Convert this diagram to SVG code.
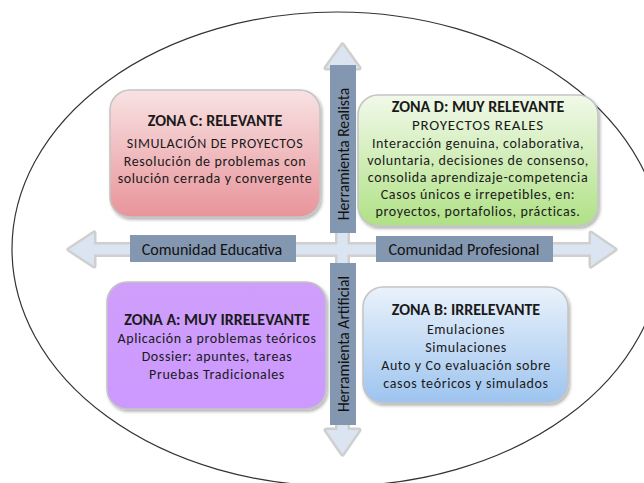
<svg xmlns="http://www.w3.org/2000/svg" width="644" height="483" viewBox="0 0 644 483">
<defs>
<linearGradient id="gC" x1="0" y1="0" x2="0" y2="1"><stop offset="0" stop-color="#f8e2e3"/><stop offset="1" stop-color="#e8949a"/></linearGradient>
<linearGradient id="gD" x1="0" y1="0" x2="0" y2="1"><stop offset="0" stop-color="#f1f9ea"/><stop offset="1" stop-color="#b0e185"/></linearGradient>
<linearGradient id="gA" x1="0" y1="0" x2="0" y2="1"><stop offset="0" stop-color="#cf9ffb"/><stop offset="1" stop-color="#cc99ff"/></linearGradient>
<linearGradient id="gB" x1="0" y1="0" x2="0" y2="1"><stop offset="0" stop-color="#eaf2fb"/><stop offset="1" stop-color="#9dc4ef"/></linearGradient>
<filter id="sh" x="-10%" y="-10%" width="125%" height="130%"><feDropShadow dx="1.5" dy="2" stdDeviation="1.5" flood-color="#000" flood-opacity="0.3"/></filter>
<path id="hArrow" d="M69,249.5 L94,233 L94,244.5 L591,244.5 L591,233 L615,249.5 L591,266 L591,254.5 L94,254.5 L94,266 Z"/>
<path id="vArrow" d="M342.5,45 L359,68 L347.5,68 L347.5,430 L359,430 L342.5,454 L326,430 L337.5,430 L337.5,68 L326,68 Z"/>
</defs>
<style>
.zone{stroke:#c4c4c4;stroke-width:1.5;filter:url(#sh)}
.t{font-family:Carlito,Lato,"Liberation Sans",sans-serif;fill:#1a1a1a;text-anchor:middle}
.h{font-weight:bold;font-size:16px}
.b{font-size:14px;letter-spacing:0.6px}
.sub{font-size:15px;letter-spacing:0.8px}
.lab{fill:#8497b0}
.lt{font-family:Carlito,Lato,"Liberation Sans",sans-serif;fill:#111;font-size:16px;text-anchor:middle;dominant-baseline:central}
.ltv{font-size:15.6px}
.arrS{fill:none;stroke:#cfcfcf;stroke-width:5;stroke-linejoin:round}
.arrF{fill:#dbe5f2}
</style>
<rect width="644" height="483" fill="#fff"/>
<ellipse cx="337" cy="249" rx="325" ry="237" fill="none" stroke="#333" stroke-width="1.2"/>
<g id="connectors">
<use href="#hArrow" class="arrS"/>
<use href="#vArrow" class="arrS"/>
<use href="#hArrow" class="arrF"/>
<use href="#vArrow" class="arrF"/>
</g>
<g id="zonaC">
<rect class="zone" x="110" y="90" width="210" height="127" rx="20" fill="url(#gC)"/>
<text class="t h" x="215" y="126">ZONA C: RELEVANTE</text>
<text class="t b" x="215" y="148">SIMULACIÓN DE PROYECTOS</text>
<text class="t b" x="215" y="166">Resolución de problemas con</text>
<text class="t b" x="215" y="183">solución cerrada y convergente</text>
</g>
<g id="zonaD">
<rect class="zone" x="358" y="95" width="240" height="131" rx="20" fill="url(#gD)"/>
<text class="t h" x="478" y="112">ZONA D: MUY RELEVANTE</text>
<text class="t sub" x="478" y="130">PROYECTOS REALES</text>
<text class="t b" x="478" y="148">Interacción genuina, colaborativa,</text>
<text class="t b" x="478" y="165">voluntaria, decisiones de consenso,</text>
<text class="t b" x="478" y="182">consolida aprendizaje-competencia</text>
<text class="t b" x="478" y="199">Casos únicos e irrepetibles, en:</text>
<text class="t b" x="478" y="216">proyectos, portafolios, prácticas.</text>
</g>
<g id="zonaA">
<rect class="zone" x="107" y="282" width="219" height="127" rx="20" fill="url(#gA)"/>
<text class="t h" x="217" y="325">ZONA A: MUY IRRELEVANTE</text>
<text class="t b" x="217" y="343">Aplicación a problemas teóricos</text>
<text class="t b" x="217" y="361">Dossier: apuntes, tareas</text>
<text class="t b" x="217" y="379">Pruebas Tradicionales</text>
</g>
<g id="zonaB">
<rect class="zone" x="363" y="287" width="205" height="116" rx="20" fill="url(#gB)"/>
<text class="t h" x="466" y="315">ZONA B: IRRELEVANTE</text>
<text class="t b" x="466" y="334">Emulaciones</text>
<text class="t b" x="466" y="352">Simulaciones</text>
<text class="t b" x="466" y="370">Auto y Co evaluación sobre</text>
<text class="t b" x="466" y="388">casos teóricos y simulados</text>
</g>
<g id="herramientaRealista">
<rect class="lab" x="330" y="65" width="26" height="168"/>
<text class="lt ltv" transform="translate(343,154) rotate(-90)">Herramienta Realista</text>
</g>
<g id="herramientaArtificial">
<rect class="lab" x="330" y="263" width="26" height="162"/>
<text class="lt ltv" transform="translate(343,344) rotate(-90)">Herramienta Artificial</text>
</g>
<g id="comunidadEducativa">
<rect class="lab" x="130" y="235" width="166" height="27"/>
<text class="lt" x="212" y="249">Comunidad Educativa</text>
</g>
<g id="comunidadProfesional">
<rect class="lab" x="376" y="236" width="177" height="26"/>
<text class="lt" x="464" y="249">Comunidad Profesional</text>
</g>
</svg>
